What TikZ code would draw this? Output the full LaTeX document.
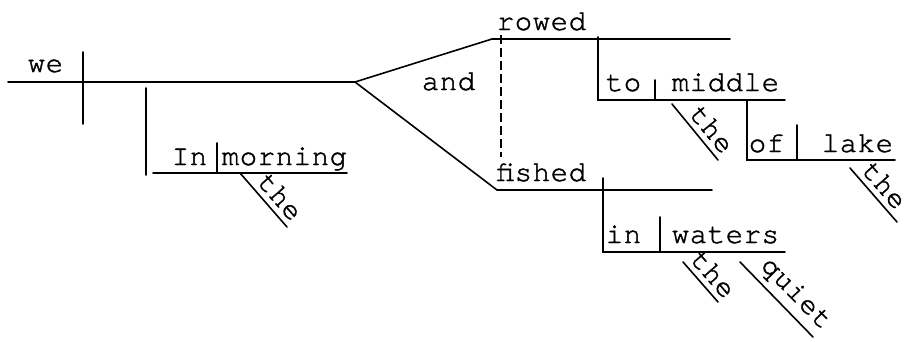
\documentclass[tikz,border=0pt]{standalone}
\usepackage{fontspec}
\setmonofont[LetterSpace=2,FakeBold=1.4]{texgyrecursor-regular.otf}

\begin{document}
\begin{tikzpicture}[x=1pt,y=-1pt,line width=1.6pt,line cap=round,
  word/.style={anchor=base west,inner sep=0pt,font=\ttfamily\fontsize{29}{29}\selectfont},
  slantword/.style={sloped,above,pos=0.62,inner sep=5pt,font=\ttfamily\fontsize{29}{29}\selectfont},
  dashline/.style={dash pattern=on 9pt off 4pt,line cap=butt,line width=2.4pt}]
\useasboundingbox (0,0) rectangle (911,341);

% subject / predicate baseline
\coordinate (m0) at (8,82);
\coordinate (fork) at (355,82);
\coordinate (d1a) at (83,52);
\coordinate (d1b) at (83,124);
\draw (m0) -- (fork);
\draw (d1a) -- (d1b);
\node[word] (we) at (27,72) {we};

% adverbial phrase "In the morning"
\coordinate (av0) at (146,88);
\coordinate (av1) at (146,175);
\coordinate (im0) at (153,173);
\coordinate (im1) at (347,173);
\coordinate (imd0) at (217,143);
\coordinate (imd1) at (217,173);
\draw (av0) -- (av1);
\draw (im0) -- (im1);
\draw (imd0) -- (imd1);
\node[word] (in1) at (171,165) {In};
\node[word] (morning) at (221,165) {morning};
\coordinate (t1a) at (240,173);
\coordinate (t1b) at (287,227);
\draw (t1a) -- node[slantword] (the1) {the} (t1b);

% compound predicate
\coordinate (up) at (492,39);
\coordinate (lo) at (497,190);
\draw (fork) -- (up);
\draw (fork) -- (lo);
\node[word] (and) at (421,90) {and};
\coordinate (dsh0) at (501,35);
\coordinate (dsh1) at (501,157);
\draw[dashline] (dsh0) -- (dsh1);

% rowed to the middle of the lake
\node[word] (rowed) at (496,30) {rowed};
\coordinate (r1) at (730,39);
\draw (up) -- (r1);
\coordinate (tv0) at (598,37);
\coordinate (tv1) at (598,100);
\coordinate (tm1) at (785,100);
\draw (tv0) -- (tv1) -- (tm1);
\coordinate (tmd0) at (655,80);
\coordinate (tmd1) at (655,100);
\draw (tmd0) -- (tmd1);
\node[word] (to) at (605,91) {to};
\node[word] (middle) at (671,91) {middle};
\coordinate (t2a) at (672,104);
\coordinate (t2b) at (718,160);
\draw (t2a) -- node[slantword] (the2) {the} (t2b);
\coordinate (ov0) at (747,100);
\coordinate (ov1) at (747,160);
\coordinate (ol1) at (895,160);
\draw (ov0) -- (ov1) -- (ol1);
\coordinate (old0) at (797,125);
\coordinate (old1) at (797,160);
\draw (old0) -- (old1);
\node[word] (of) at (748,152) {of};
\node[word] (lake) at (821,152) {lake};
\coordinate (t3a) at (850,168);
\coordinate (t3b) at (897,222);
\draw (t3a) -- node[slantword,pos=0.5] (the3) {the} (t3b);

% fished in the quiet waters
\node[word] (fished) at (496,181) {fished};
\coordinate (f1) at (712,190);
\draw (lo) -- (f1);
\coordinate (iv0) at (603,178);
\coordinate (iv1) at (603,252);
\coordinate (iw1) at (785,252);
\draw (iv0) -- (iv1) -- (iw1);
\coordinate (iwd0) at (660,217);
\coordinate (iwd1) at (660,252);
\draw (iwd0) -- (iwd1);
\node[word] (in2) at (605,243) {in};
\node[word] (waters) at (671,243) {waters};
\coordinate (t4a) at (683,262);
\coordinate (t4b) at (718,302);
\draw (t4a) -- node[slantword,pos=0.55] (the4) {the} (t4b);
\coordinate (qa) at (740,262);
\coordinate (qb) at (813,337);
\draw (qa) -- node[slantword,pos=0.59] (quiet) {quiet} (qb);
\end{tikzpicture}
\end{document}
